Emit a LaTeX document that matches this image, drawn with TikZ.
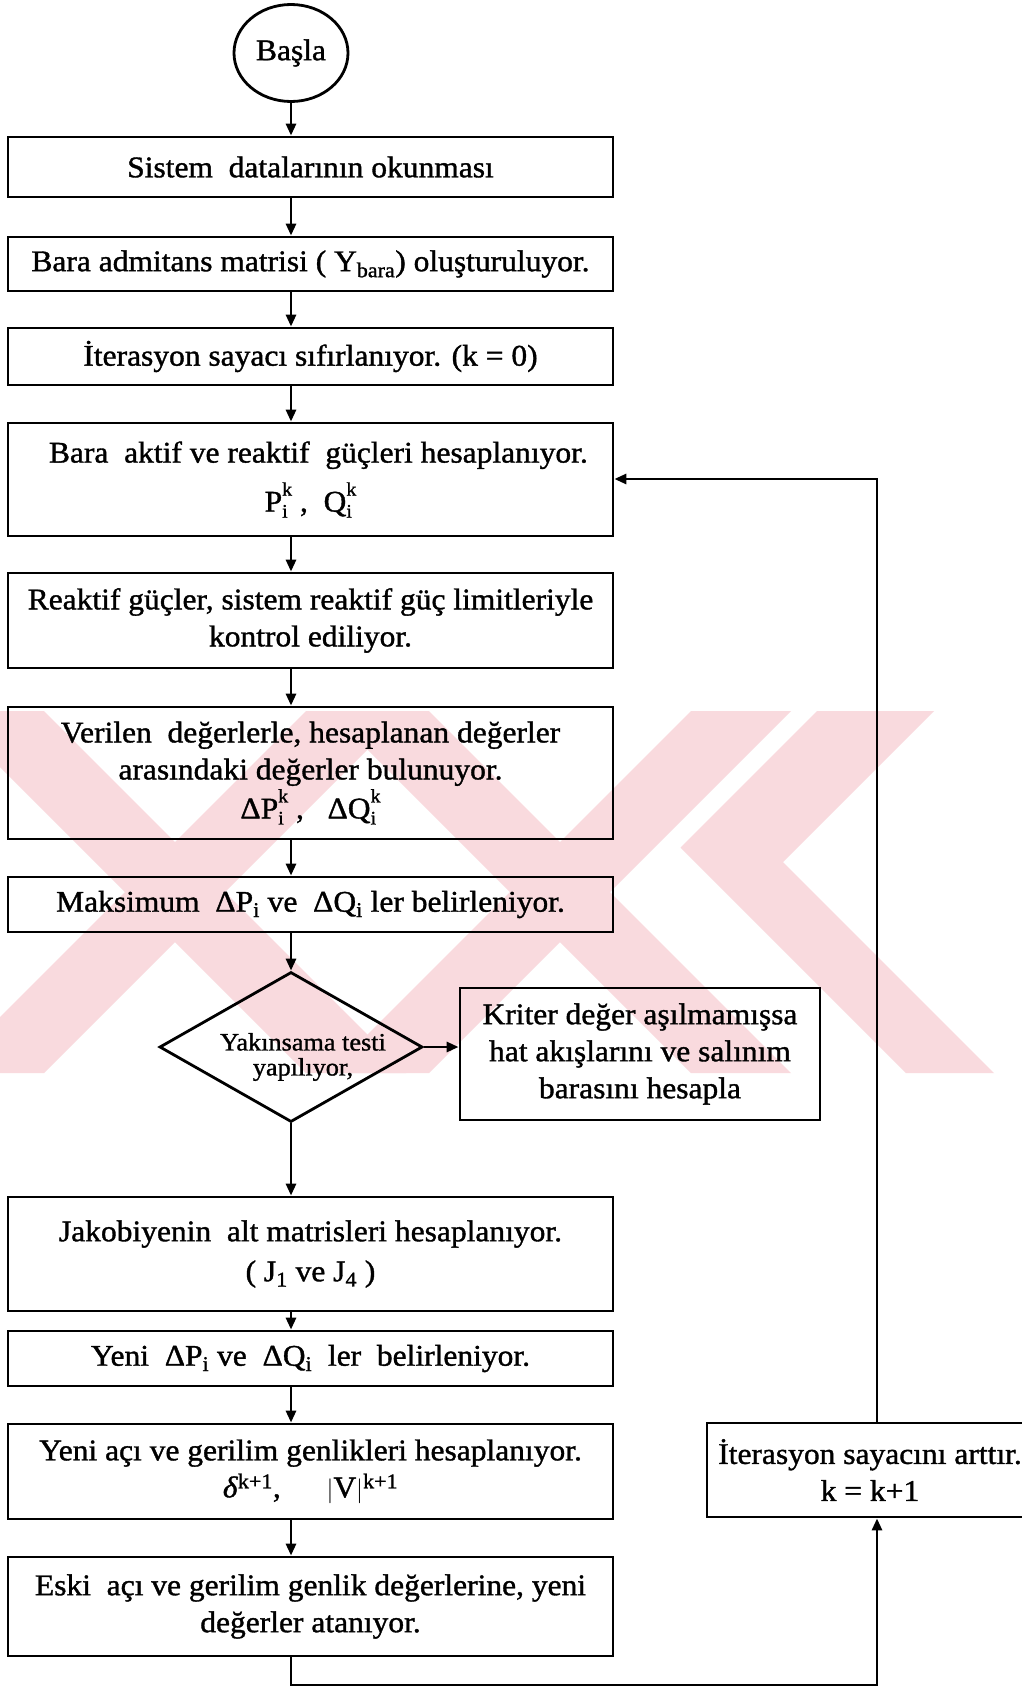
\documentclass[tikz,border=0pt]{standalone}
\usepackage{amsmath}
\usepackage{fontspec}
\setmainfont{Liberation Serif}[FakeStretch=1.05, FakeBold=1.2]
\usetikzlibrary{arrows.meta,shapes.geometric}
\definecolor{wm}{RGB}{249,218,222}
\newcommand{\ik}{\rlap{\raisebox{-6pt}{\fontsize{19}{19}\selectfont i}}\raisebox{16pt}{\fontsize{19}{19}\selectfont k}}
\begin{document}
\begin{tikzpicture}[x=1pt,y=-1pt,
  box/.style={draw, line width=2.8pt, rectangle, inner sep=0pt, minimum width=605pt,
    align=center, font=\fontsize{30}{37}\selectfont},
  startnode/.style={draw, line width=2.8pt, ellipse, inner sep=0pt, minimum width=114pt,
    minimum height=97pt, font=\fontsize{30}{34}\selectfont},
  decision/.style={draw, line width=2.8pt, diamond, inner sep=0pt, minimum width=263pt,
    minimum height=150pt},
  dtext/.style={align=center, inner sep=0pt, font=\fontsize{25}{25}\selectfont},
  arr/.style={-{Triangle[length=12pt,width=10pt]}, line width=2.8pt}]
\useasboundingbox (0,0) rectangle (1022,1689);
\fill[white] (0,0) rectangle (1022,1689);
% watermark
\begin{scope}
  \clip (0,711) rectangle (1022,1073);
  \fill[wm] (-56,711)--(44,711)--(406,1073)--(306,1073)--cycle;
  \fill[wm] (306,711)--(406,711)--(44,1073)--(-56,1073)--cycle;
  \fill[wm] (329,711)--(429,711)--(791,1073)--(691,1073)--cycle;
  \fill[wm] (691,711)--(791,711)--(429,1073)--(329,1073)--cycle;
  \fill[wm] (817,711)--(934,711)--(783,862)--(994,1073)--(906,1073)--(680.5,847.5)--cycle;
\end{scope}
\coordinate (col) at (291,0);
\node[startnode] (start) at (291,53) {Başla};
\node[box, minimum height=60pt] (b1) at (310.5,167) {Sistem~~datalarının okunması};
\node[box, minimum height=54pt] (b2) at (310.5,264) {Bara admitans matrisi ( Y$_{\text{bara}}$) oluşturuluyor.};
\node[box, minimum height=57pt] (b3) at (310.5,356.5) {İterasyon sayacı sıfırlanıyor. (k = 0)};
\node[box, minimum height=113pt] (b4) at (310.5,479.5) {~~Bara~~aktif ve reaktif~~güçleri hesaplanıyor.\\[12pt]
  P\ik~,~~Q\ik};
\node[box, minimum height=95pt] (b5) at (310.5,620.5) {Reaktif güçler, sistem reaktif güç limitleriyle\\kontrol ediliyor.};
\node[box, minimum height=132pt] (b6) at (310.5,773) {Verilen~~değerlerle, hesaplanan değerler\\arasındaki değerler bulunuyor.\\[2pt]
  ΔP\ik~,~~~ΔQ\ik};
\node[box, minimum height=55pt] (b7) at (310.5,904.5) {Maksimum~~ΔP$_{\text{i}}$ ve~~ΔQ$_{\text{i}}$ ler belirleniyor.};
\node[decision] (dia) at (291,1047) {};
\node[dtext] (diatext) at (303,1057) {Yakınsama testi\\yapılıyor,};
\node[box, minimum width=360pt, minimum height=132pt] (kr) at (640,1054) {Kriter değer aşılmamışsa\\hat akışlarını ve salınım\\barasını hesapla};
\node[box, minimum height=114pt] (b8) at (310.5,1254) {Jakobiyenin~~alt matrisleri hesaplanıyor.\\[3pt]( J$_{\text{1}}$ ve J$_{\text{4}}$ )};
\node[box, minimum height=55pt] (b9) at (310.5,1358.5) {Yeni~~ΔP$_{\text{i}}$ ve~~ΔQ$_{\text{i}}$~~ler~~belirleniyor.};
\node[box, minimum height=95pt] (b10) at (310.5,1471.5) {Yeni açı ve gerilim genlikleri hesaplanıyor.\\
  \textit{δ}$^{\text{k+1}}$,\quad~~$|$V$|^{\text{k+1}}$};
\node[box, minimum height=99pt] (b11) at (310.5,1606.5) {Eski~~açı ve gerilim genlik değerlerine, yeni\\değerler atanıyor.};
\node[box, minimum width=326pt, minimum height=94pt] (br) at (870,1470) {İterasyon sayacını arttır.\\k = k+1};
% connectors
\coordinate (rc) at (877,0);
\coordinate (bl) at (291,1685);
\coordinate (brc) at (877,1685);
\coordinate (tr) at (877,479);
\draw[arr] (start.south) -- (b1.north -| col);
\draw[arr] (b1.south -| col) -- (b2.north -| col);
\draw[arr] (b2.south -| col) -- (b3.north -| col);
\draw[arr] (b3.south -| col) -- (b4.north -| col);
\draw[arr] (b4.south -| col) -- (b5.north -| col);
\draw[arr] (b5.south -| col) -- (b6.north -| col);
\draw[arr] (b6.south -| col) -- (b7.north -| col);
\draw[arr] (b7.south -| col) -- (dia.north);
\draw[arr] (dia.east) -- (kr.west |- dia.east);
\draw[arr] (dia.south) -- (b8.north -| col);
\draw[arr] (b8.south -| col) -- (b9.north -| col);
\draw[arr] (b9.south -| col) -- (b10.north -| col);
\draw[arr] (b10.south -| col) -- (b11.north -| col);
\draw[arr] (b11.south -| col) -- (bl) -- (brc) -- (br.south -| rc);
\draw[arr] (br.north -| rc) -- (tr) -- (b4.east |- tr);
\end{tikzpicture}
\end{document}
